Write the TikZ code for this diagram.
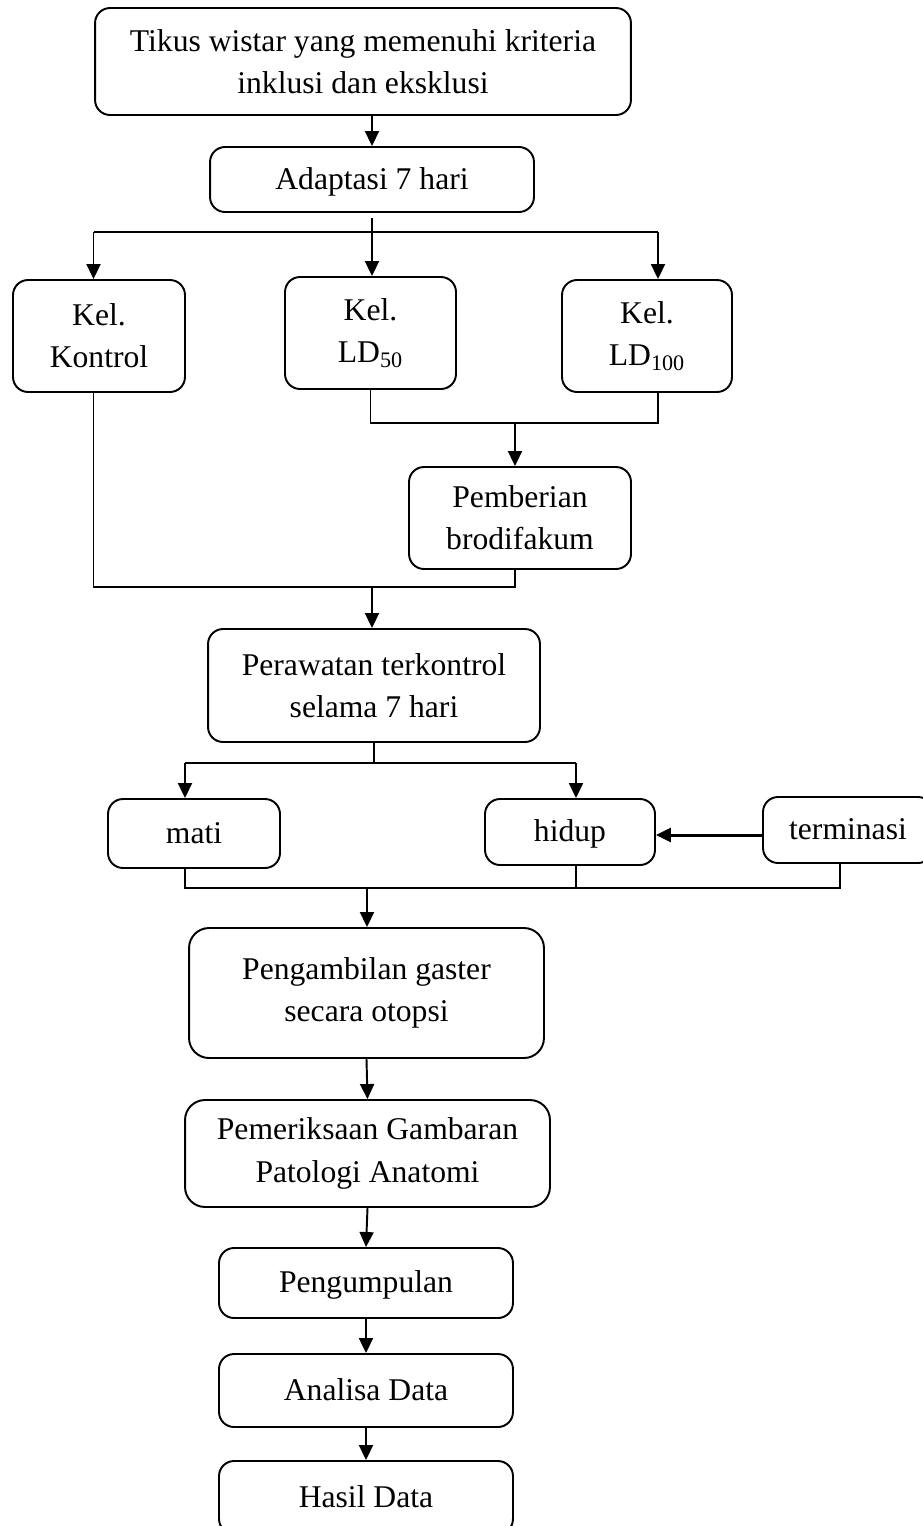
\documentclass[tikz,border=0pt]{standalone}
\usepackage{fontspec}
\setmainfont{Liberation Serif}
\usetikzlibrary{arrows.meta}

\tikzset{
  box/.style={draw, line width=1.1pt, rounded corners=0.3cm, align=center,
    inner sep=2pt, font=\fontsize{18}{24}\selectfont},
  single/.style={text height=0.44cm, text depth=0.06cm},
  link/.style={line width=1.1pt},
  flow/.style={line width=1.1pt, -{Triangle[length=0.3cm, width=0.28cm]}},
}

\begin{document}
\begin{tikzpicture}[x=0.02cm, y=-0.02cm]
  \useasboundingbox (0,0) rectangle (923,1526);

  % Start and adaptation
  \node[box, minimum width=10.72cm, minimum height=2.14cm] (tikus) at (363,61.5)
    {Tikus wistar yang memenuhi kriteria\\inklusi dan eksklusi};
  \node[box, single, minimum width=6.48cm, minimum height=1.30cm] (adapt) at (372,179.5)
    {Adaptasi 7 hari};

  % Groups
  \node[box, minimum width=3.44cm, minimum height=2.24cm] (kontrol) at (99,336)
    {Kel.\\Kontrol};
  \node[box, minimum width=3.42cm, minimum height=2.24cm] (ld50) at (370.5,333)
    {Kel.\\LD\textsubscript{50}};
  \node[box, minimum width=3.40cm, minimum height=2.24cm] (ld100) at (647,336)
    {Kel.\\LD\textsubscript{100}};
  \node[box, minimum width=4.44cm, minimum height=2.04cm] (beri) at (520,518)
    {Pemberian\\brodifakum};

  % Treatment and outcome
  \node[box, minimum width=6.64cm, minimum height=2.26cm] (rawat) at (374,685.5)
    {Perawatan terkontrol\\selama 7 hari};
  \node[box, single, minimum width=3.44cm, minimum height=1.38cm] (mati) at (194,833.5) {mati};
  \node[box, single, minimum width=3.40cm, minimum height=1.32cm] (hidup) at (570,832) {hidup};
  \node[box, single, minimum width=3.40cm, minimum height=1.32cm] (term) at (848,830) {terminasi};

  % Final steps
  \node[box, rounded corners=0.4cm, minimum width=7.10cm, minimum height=2.60cm] (ambil)
    at (366.5,993) {Pengambilan gaster\\secara otopsi};
  \node[box, rounded corners=0.4cm, minimum width=7.30cm, minimum height=2.14cm] (periksa)
    at (367.5,1153.5) {Pemeriksaan Gambaran\\Patologi Anatomi};
  \node[box, single, minimum width=5.88cm, minimum height=1.40cm] (kumpul) at (366,1283) {Pengumpulan};
  \node[box, single, minimum width=5.88cm, minimum height=1.46cm] (analisa) at (366,1390.5) {Analisa Data};
  \node[box, single, minimum width=5.88cm, minimum height=1.46cm] (hasil) at (366,1497.5) {Hasil Data};

  % Split into groups
  \coordinate (sL) at (93.5,232);
  \coordinate (sR) at (658,232);
  \draw[flow] (tikus.south -| adapt.north) -- (adapt.north);
  \draw[link] (sL) -- (sR);
  \draw[flow] ([yshift=-0.1cm]adapt.south) -- (adapt.south |- ld50.north);
  \draw[flow] (sL) -- (sL |- kontrol.north);
  \draw[flow] (sR) -- (sR |- ld100.north);

  % LD groups to brodifakum
  \coordinate (jA) at (515,423);
  \draw[link] (ld50.south) -- (ld50.south |- jA) -- (sR |- jA) -- (sR |- ld100.south);
  \draw[flow] (jA) -- (jA |- beri.north);

  % Join with control
  \coordinate (jB) at (372,587);
  \draw[link] (sL |- kontrol.south) -- (sL |- jB) -- (jA |- jB) -- (jA |- beri.south);
  \draw[flow] (jB) -- (jB |- rawat.north);

  % Outcome split
  \coordinate (sM) at (185,763);
  \coordinate (sH) at (576,763);
  \draw[link] (rawat.south) -- (rawat.south |- sM);
  \draw[link] (sM) -- (sH);
  \draw[flow] (sM) -- (sM |- mati.north);
  \draw[flow] (sH) -- (sH |- hidup.north);
  \draw[flow, line width=1.7pt] ([yshift=-0.1cm]term.west) -- ([yshift=-0.1cm]term.west -| hidup.east);

  % Outcome join
  \coordinate (j3) at (367,888);
  \coordinate (tT) at (840,888);
  \draw[link] (sM |- mati.south) -- (sM |- j3) -- (tT) -- (tT |- term.south);
  \draw[link] (sH |- hidup.south) -- (sH |- j3);
  \draw[flow] (j3) -- (j3 |- ambil.north);

  % Chain to results
  \draw[flow] (ambil.south) -- (periksa.north);
  \draw[flow] (periksa.south) -- (kumpul.north);
  \draw[flow] (kumpul.south) -- (analisa.north);
  \draw[flow] (analisa.south) -- (hasil.north);
\end{tikzpicture}
\end{document}
